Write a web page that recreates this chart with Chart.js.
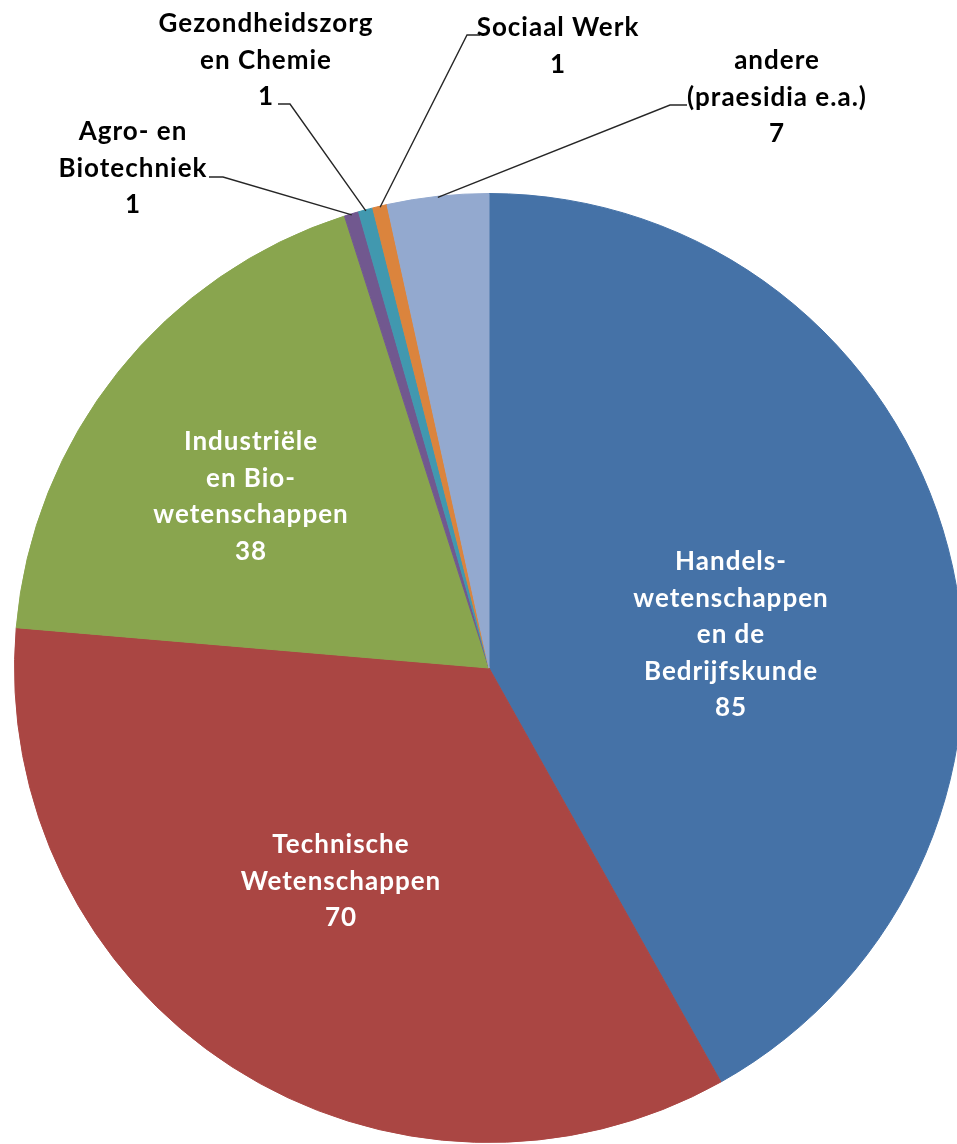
<!DOCTYPE html>
<html>
<head>
<meta charset="utf-8">
<script src="https://cdn.jsdelivr.net/npm/chart.js@4.4.1/dist/chart.umd.min.js"></script>
<style>
  html, body { margin: 0; padding: 0; background: #fff; overflow: hidden; }
  #chart { position: absolute; left: 0; top: 0; }
</style>
</head>
<body>
<canvas id="chart" width="980" height="1144"></canvas>
<script>
// slice names (one entry per line of the label)
const categories = [
    ["Handels-", "wetenschappen", "en de", "Bedrijfskunde"],
    ["Technische", "Wetenschappen"],
    ["Industriële", "en Bio-", "wetenschappen"],
    ["Agro- en", "Biotechniek"],
    ["Gezondheidszorg", "en Chemie"],
    ["Sociaal Werk"],
    ["andere", "(praesidia e.a.)"]
];
const values = [85, 70, 38, 1, 1, 1, 7];
const colors = ["#4572A7", "#AA4643", "#89A54E", "#71588F", "#4198AF", "#DB843D", "#93A9CF"];

// where the label text sits, and the text-side end of the leader lines
const label_layout = [
    {x: 731, y: 562, inside: true},
    {x: 341, y: 845, inside: true},
    {x: 251, y: 442, inside: true},
    {x: 133, y: 132, leader: [[209, 177], [223, 177]]},
    {x: 266, y: 24, leader: [[278, 104], [290, 104]]},
    {x: 558, y: 28, leader: [[480, 35], [467, 35]]},
    {x: 777, y: 61, leader: [[687, 105], [670, 105]]}
];

const font = "bold 26px Lato, 'Open Sans', sans-serif";
const line_height = 36.4;

const ctx = document.getElementById("chart");

const label_plugin = {
    id: "pie_labels",
    afterDatasetsDraw(chart) {
        const c = chart.ctx;
        const arcs = chart.getDatasetMeta(0).data;
        c.save();
        c.font = font;
        c.letterSpacing = "1px";
        c.textAlign = "center";
        c.textBaseline = "middle";
        arcs.forEach((arc, i) => {
            const lay = label_layout[i];
            const p = arc.getProps(["x", "y", "startAngle", "endAngle", "outerRadius"], true);
            if (lay.leader){
                const mid = (p.startAngle + p.endAngle) / 2;
                const ex = p.x + Math.cos(mid) * (p.outerRadius - 1);
                const ey = p.y + Math.sin(mid) * (p.outerRadius - 1);
                c.strokeStyle = "#262626";
                c.lineWidth = 1.4;
                c.beginPath();
                c.moveTo(lay.leader[0][0], lay.leader[0][1]);
                c.lineTo(lay.leader[1][0], lay.leader[1][1]);
                c.lineTo(ex, ey);
                c.stroke();
            }
            const lines = categories[i].concat([String(values[i])]);
            c.fillStyle = lay.inside ? "#ffffff" : "#000000";
            lines.forEach((t, k) => {
                c.fillText(t, lay.x, lay.y + k * line_height);
            });
        });
        c.restore();
    }
};

let chart = new Chart(ctx, {
    type: "pie",
    data: {
        labels: categories.map(l => l.join(" ")),
        datasets: [{
            data: values,
            backgroundColor: colors,
            borderColor: colors,
            borderWidth: 1
        }]
    },
    options: {
        responsive: false,
        animation: false,
        layout: {
            padding: {left: 14, right: 16, top: 193, bottom: 1}
        },
        plugins: {
            legend: {display: false},
            tooltip: {enabled: false}
        }
    },
    plugins: [label_plugin]
});
</script>
</body>
</html>
